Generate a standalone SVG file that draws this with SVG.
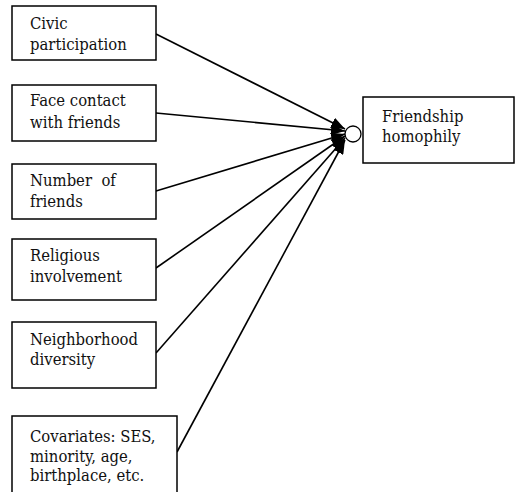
<svg xmlns="http://www.w3.org/2000/svg" width="517" height="492" viewBox="0 0 517 492">
<style>
.box{fill:#fff;stroke:#000;stroke-width:1.5}
text{font-family:"DejaVu Serif Condensed","DejaVu Serif",serif;font-stretch:condensed;font-size:16.5px;fill:#111}
.c{stroke:#000;stroke-width:1.6;fill:none}
</style>
<defs>
<marker id="ah" markerUnits="userSpaceOnUse" markerWidth="14" markerHeight="11" refX="14" refY="5.5" orient="auto">
<path d="M0,0 L14,5.5 L0,11 z" fill="#000"/>
</marker>
</defs>
<rect width="517" height="492" fill="#fff"/>
<g id="connectors">
<line class="c" x1="156" y1="34" x2="345" y2="129" marker-end="url(#ah)"/>
<line class="c" x1="156" y1="113" x2="345" y2="131" marker-end="url(#ah)"/>
<line class="c" x1="156" y1="191" x2="345" y2="134" marker-end="url(#ah)"/>
<line class="c" x1="156" y1="268" x2="345" y2="136" marker-end="url(#ah)"/>
<line class="c" x1="156" y1="353" x2="345" y2="138" marker-end="url(#ah)"/>
<line class="c" x1="177" y1="452" x2="345" y2="140" marker-end="url(#ah)"/>
</g>
<g id="n1"><rect class="box" x="12" y="6" width="144" height="54"/><text x="30" y="29">Civic</text><text x="30" y="50">participation</text></g>
<g id="n2"><rect class="box" x="12" y="85" width="144" height="56"/><text x="30" y="106">Face contact</text><text x="30" y="128">with friends</text></g>
<g id="n3"><rect class="box" x="12" y="164" width="144" height="55"/><text x="30" y="186" xml:space="preserve">Number  of</text><text x="30" y="207">friends</text></g>
<g id="n4"><rect class="box" x="12" y="239" width="144" height="61"/><text x="30" y="261">Religious</text><text x="30" y="282">involvement</text></g>
<g id="n5"><rect class="box" x="12" y="322" width="144" height="66"/><text x="30" y="345">Neighborhood</text><text x="30" y="365">diversity</text></g>
<g id="n6"><rect class="box" x="12" y="416" width="165" height="82"/><text x="30" y="442">Covariates: SES,</text><text x="30" y="462">minority, age,</text><text x="30" y="481">birthplace, etc.</text></g>
<g id="n7"><circle cx="353" cy="134" r="8" fill="#fff" stroke="#000" stroke-width="1.3"/></g>
<g id="n8"><rect class="box" x="363" y="97" width="151" height="66"/><text x="382" y="122">Friendship</text><text x="382" y="142">homophily</text></g>
</svg>
